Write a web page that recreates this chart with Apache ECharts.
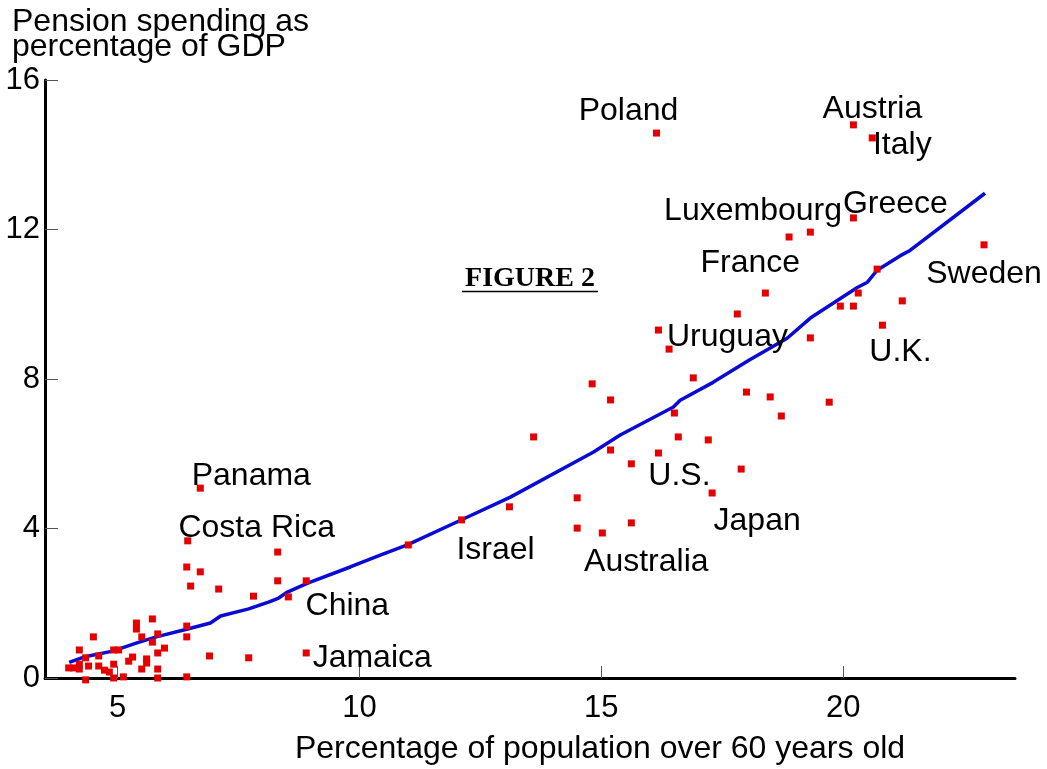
<!DOCTYPE html>
<html>
<head>
<meta charset="utf-8">
<script src="https://cdn.jsdelivr.net/npm/echarts@6/dist/echarts.min.js"></script>
<style>
  html, body { margin: 0; padding: 0; background: #fff; }
  #chart { width: 1047px; height: 769px; }
</style>
</head>
<body>
<div id="chart"></div>
<script>
// Share of population aged 60+ (%) vs public pension spending (% of GDP)

// Named countries
const namedCountries = ['Panama', 'Costa Rica', 'China', 'Jamaica', 'Israel', 'Australia', 'U.S.', 'Japan',
  'Uruguay', 'France', 'Luxembourg', 'Poland', 'Austria', 'Italy', 'Greece', 'Sweden', 'U.K.'];
const namedOver60 = [6.71, 6.45, 8.53, 8.90, 12.11, 15.02, 16.18, 17.29,
  16.18, 18.39, 18.88, 16.14, 20.21, 20.60, 20.21, 22.91, 20.81];
const namedPension = [5.08, 3.67, 2.17, 0.67, 4.23, 3.88, 6.02, 4.95,
  9.31, 10.30, 11.80, 14.58, 14.80, 14.45, 12.31, 11.59, 9.44];

// Remaining countries (unlabelled)
const otherOver60 = [3.99, 4.09, 4.21, 4.21, 4.21, 4.34, 4.34, 4.40, 4.50, 4.61, 4.61, 4.73, 4.83, 4.92, 5.02,
  4.92, 4.92, 5.12, 5.23, 5.31, 5.39, 5.39, 5.50, 5.50, 5.60, 5.60, 5.72, 5.72, 5.83, 5.83, 5.83, 5.83, 5.97,
  6.43, 6.43, 6.43, 6.43, 6.51, 6.71, 6.90, 7.09, 7.71, 7.81, 8.31, 8.31, 8.90,
  11.01, 13.10, 13.60, 14.50, 14.50, 14.81, 15.19, 15.19, 15.62, 15.62, 16.40, 16.51, 16.59, 16.90, 17.21,
  17.81, 17.89, 18.00, 18.49, 18.72, 19.32, 19.32, 19.71, 19.94, 20.21, 20.31, 20.70, 21.22];
const otherPension = [0.27, 0.27, 0.37, 0.24, 0.75, 0.54, -0.05, 0.32, 1.10, 0.59, 0.32, 0.21, 0.16, 0.75, 0.75,
  0.37, 0.00, 0.03, 0.45, 0.56, 1.47, 1.31, 1.10, 0.24, 0.51, 0.40, 1.58, 0.96, 1.18, 0.67, 0.24, 0.00, 0.80,
  2.97, 1.39, 1.10, 0.03, 2.46, 2.84, 0.59, 2.38, 0.54, 2.19, 3.37, 2.60, 2.60,
  3.56, 4.58, 6.45, 4.82, 4.01, 7.87, 7.44, 6.10, 5.73, 4.15, 8.80, 7.09, 6.45, 8.03, 6.37,
  9.74, 5.59, 7.65, 7.52, 7.01, 11.93, 9.10, 7.38, 9.95, 9.95, 10.30, 10.94, 10.09];

// Fitted trend line
const fitOver60 = [4.00, 4.30, 4.90, 5.40, 5.80, 6.45, 6.92, 7.13, 7.71, 8.12, 8.33, 8.51, 8.93, 9.81, 10.43,
  10.99, 12.09, 13.12, 14.83, 15.39, 16.49, 16.63, 17.31, 18.05, 18.84, 19.32, 20.29, 20.50, 20.70, 21.18, 21.38, 22.93];
const fitPension = [0.42, 0.56, 0.72, 0.94, 1.10, 1.31, 1.47, 1.66, 1.85, 2.03, 2.14, 2.30, 2.54, 2.97, 3.29,
  3.56, 4.22, 4.84, 6.04, 6.50, 7.25, 7.43, 7.91, 8.50, 9.09, 9.63, 10.45, 10.59, 10.91, 11.30, 11.44, 12.97];

// Axis ticks
const xTicks = [5, 10, 15, 20];

// Where each country name sits relative to its marker (px)
const labelOffsets = {
  'Poland': [-28, -22], 'Austria': [19, -16], 'Italy': [30, 7], 'Luxembourg': [-36, -26],
  'Greece': [42, -14], 'France': [-15, -30], 'Sweden': [0, 29], 'Uruguay': [69, 7],
  'U.K.': [18, 27], 'Panama': [51, -12], 'Costa Rica': [69, -13], 'China': [59, 9],
  'Jamaica': [66, 5], 'Israel': [34, 30], 'Australia': [44, 29], 'U.S.': [21, 23], 'Japan': [45, 28]
};

const FONT = '"Liberation Sans", Arial, sans-serif';
const RED = '#e40000';

const otherData = otherOver60.map((x, i) => [x, otherPension[i]]);
const namedData = namedCountries.map((n, i) => ({ name: n, value: [namedOver60[i], namedPension[i]] }));
const fitData = fitOver60.map((x, i) => [x, fitPension[i]]);

const chart = echarts.init(document.getElementById('chart'), null, { renderer: 'canvas' });
chart.setOption({
  animation: false,
  backgroundColor: '#fff',
  grid: { left: 45, right: 32, top: 80, bottom: 91, containLabel: false },
  xAxis: {
    type: 'value',
    min: 3.5,
    max: 23.55,
    splitLine: { show: false },
    axisLine: { show: true, onZero: false, lineStyle: { color: '#000', width: 3 } },
    axisTick: { show: true, inside: true, length: 12, customValues: xTicks, lineStyle: { color: '#555', width: 1 } },
    axisLabel: { customValues: xTicks, margin: 15, color: '#000', fontSize: 31, fontFamily: FONT }
  },
  yAxis: {
    type: 'value',
    min: 0,
    max: 16,
    interval: 4,
    splitLine: { show: false },
    axisLine: { show: true, onZero: false, lineStyle: { color: '#000', width: 3 } },
    axisTick: { show: true, inside: true, length: 13, lineStyle: { color: '#555', width: 1 } },
    axisLabel: { margin: 5, color: '#000', fontSize: 31, fontFamily: FONT }
  },
  series: [
    {
      type: 'line',
      data: fitData,
      showSymbol: false,
      symbol: 'none',
      smooth: false,
      z: 2,
      lineStyle: { color: '#0a0ad6', width: 3.5 },
      silent: true
    },
    {
      type: 'scatter',
      data: otherData,
      symbol: 'rect',
      symbolSize: 7,
      clip: false,
      z: 3,
      itemStyle: { color: RED, opacity: 1 },
      silent: true
    },
    {
      type: 'scatter',
      data: namedData,
      symbol: 'rect',
      symbolSize: 7,
      clip: false,
      z: 3,
      itemStyle: { color: RED, opacity: 1 },
      silent: true,
      label: {
        show: true,
        position: 'inside',
        formatter: p => p.name,
        align: 'center',
        verticalAlign: 'middle',
        color: '#000',
        textBorderWidth: 0,
        fontSize: 32,
        fontFamily: FONT
      },
      labelLayout: params => {
        const off = labelOffsets[namedCountries[params.dataIndex]];
        return { dx: off[0], dy: off[1], hideOverlap: false };
      }
    }
  ],
  graphic: [
    {
      type: 'text',
      left: 12,
      top: 6,
      style: {
        text: 'Pension spending as\npercentage of GDP',
        font: '32px ' + FONT,
        lineHeight: 25,
        fill: '#000'
      }
    },
    {
      type: 'text',
      x: 600,
      y: 749,
      style: {
        text: 'Percentage of population over 60 years old',
        font: '32px ' + FONT,
        align: 'center',
        verticalAlign: 'middle',
        fill: '#000'
      }
    },
    {
      type: 'text',
      x: 530,
      y: 279,
      style: {
        text: 'FIGURE 2',
        font: 'bold 28px "Liberation Serif", "Times New Roman", serif',
        align: 'center',
        verticalAlign: 'middle',
        fill: '#000'
      }
    },
    {
      type: 'line',
      shape: { x1: 462, y1: 291.5, x2: 598, y2: 291.5 },
      style: { stroke: '#000', lineWidth: 1.5 }
    }
  ]
});
</script>
</body>
</html>
